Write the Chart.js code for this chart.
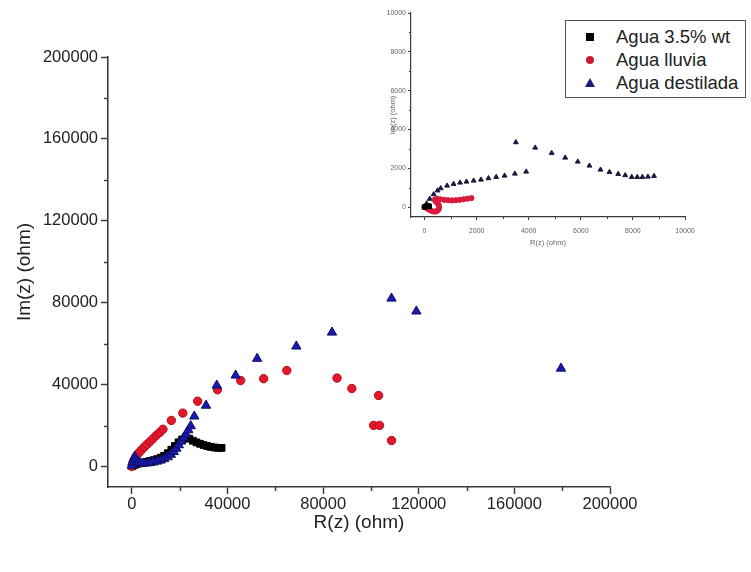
<!DOCTYPE html>
<html>
<head>
<meta charset="utf-8">
<title>Im(z) vs R(z)</title>
<script src="https://cdn.jsdelivr.net/npm/chart.js@4.4.1/dist/chart.umd.min.js"></script>
<style>
    html, body { margin: 0; padding: 0; background: #fff; overflow: hidden; }
    #wrap { position: relative; width: 751px; height: 572px; }
    #main { position: absolute; left: 0; top: 0; }
    #inset { position: absolute; left: 370px; top: 0; }
    #legend {
        position: absolute; left: 565px; top: 20px; width: 179px; height: 76px;
        border: 1px solid #555; background: #fff;
        font-family: "Liberation Sans", Arial, sans-serif; font-size: 18.5px; color: #222;
    }
    .row { position: absolute; left: 0; height: 22px; line-height: 22px; }
    .row span.txt { position: absolute; left: 50px; white-space: nowrap; }
    .mk { position: absolute; }
    .sq { left: 20px; top: 7px; width: 8px; height: 8px; background: #000; }
    .ci { left: 20px; top: 7px; width: 8px; height: 8px; border-radius: 50%; background: #c81c36; }
    .tr { left: 19px; top: 6px; width: 0; height: 0; border-left: 5px solid transparent; border-right: 5px solid transparent; border-bottom: 9px solid #1a1a78; }
</style>
</head>
<body>
<div id="wrap">
    <canvas id="main" width="751" height="572"></canvas>
    <canvas id="inset" width="340" height="255"></canvas>
    <div id="legend">
        <div class="row" style="top:5px"><i class="mk sq"></i><span class="txt">Agua 3.5% wt</span></div>
        <div class="row" style="top:28px"><i class="mk ci"></i><span class="txt">Agua lluvia</span></div>
        <div class="row" style="top:51px"><i class="mk tr"></i><span class="txt">Agua destilada</span></div>
    </div>
</div>
<script>
// main plot: Nyquist data, R(z) and Im(z) in ohm
const saltR = [200, 900, 1800, 3000, 4500, 6000, 7500, 9000, 10500, 12000, 13500, 15000, 16500, 18000, 19500, 21000, 22500, 24000, 25500, 27000, 28500, 30000, 31500, 33000, 34500, 36000, 37500];
const saltIm = [200, 700, 1100, 1500, 1900, 2300, 2700, 3100, 3600, 4300, 5200, 6500, 8200, 10000, 11800, 13200, 14100, 13600, 12600, 11800, 11100, 10500, 10000, 9600, 9300, 9100, 9100];

const rainR = [0, 400, 1000, 1800, 2800, 3900, 5100, 6300, 7600, 8900, 10200, 11600, 13000, 16500, 21300, 27500, 35800, 45500, 55100, 64800, 85800, 92000, 103200, 101100, 103600, 108600];
const rainIm = [0, 1500, 3300, 5000, 6600, 8000, 9400, 10800, 12200, 13700, 15200, 16600, 18200, 22500, 26100, 31900, 37500, 42000, 42900, 46900, 43200, 38100, 34700, 20100, 20100, 12700];

const distR = [0, 300, 700, 1200, 1800, 2600, 3600, 4800, 6200, 7600, 9000, 10500, 12000, 13500, 15000, 16300, 17500, 18600, 19600, 20600, 21600, 22600, 23600, 24600, 26100, 31000, 35500, 43400, 52400, 68800, 83700, 108600, 119000, 179500];
const distIm = [300, 2000, 3800, 4800, 3400, 2200, 1600, 1500, 1600, 1800, 2100, 2500, 3000, 3700, 4600, 5800, 7200, 8800, 10500, 12300, 14100, 15900, 17800, 19800, 24500, 29800, 39600, 44500, 52700, 58700, 65500, 82100, 75800, 47900];

const mainTicks = [0, 40000, 80000, 120000, 160000, 200000];
const mainMinor = [20000, 60000, 100000, 140000, 180000];

// inset plot
const insSaltR = [0, 60, 120, 180];
const insSaltIm = [0, 30, 50, 40];

const insRainR = [0, 100, 200, 300, 400, 480, 540, 560, 540, 480, 420, 400, 480, 600, 750, 900, 1050, 1200, 1350, 1500, 1650, 1800];
const insRainIm = [0, -80, -160, -220, -240, -200, -120, 0, 120, 220, 300, 380, 420, 400, 370, 350, 340, 350, 370, 400, 430, 460];

const insDistR = [0, 80, 200, 350, 500, 621, 866, 1115, 1364, 1610, 1885, 2167, 2454, 2751, 3074, 3468, 3903, 3506, 4249, 4881, 5401, 5885, 6331, 6755, 7100, 7435, 7706, 7955, 8167, 8364, 8576, 8810];
const insDistIm = [0, 180, 420, 650, 850, 964, 1098, 1186, 1253, 1304, 1356, 1407, 1479, 1546, 1613, 1716, 1820, 3335, 3057, 2784, 2541, 2335, 2129, 1923, 1804, 1701, 1634, 1546, 1546, 1546, 1562, 1598];

const insetTicks = [0, 2000, 4000, 6000, 8000, 10000];
const insetMinor = [1000, 3000, 5000, 7000, 9000];

const FONT = "'Liberation Sans', Arial, sans-serif";
const AXIS = "#3a3a3a";

function toPoints(xs, ys) {
    return xs.map((x, i) => ({ x, y: ys[i] }));
}

// short ticks between the labelled ones
const minorTicks = {
    id: "minorTicks",
    afterDraw(chart, args, opts) {
        const ctx = chart.ctx;
        ctx.save();
        ctx.strokeStyle = opts.color;
        ctx.lineWidth = opts.width;
        ["x", "y"].forEach((id) => {
            const scale = chart.scales[id];
            (opts.values || []).forEach((v) => {
                const p = Math.round(scale.getPixelForValue(v)) + 0.5;
                ctx.beginPath();
                if (id === "x") {
                    ctx.moveTo(p, scale.top);
                    ctx.lineTo(p, scale.top + opts.length);
                } else {
                    ctx.moveTo(scale.right, p);
                    ctx.lineTo(scale.right - opts.length, p);
                }
                ctx.stroke();
            });
        });
        ctx.restore();
    },
};

function axis(opts) {
    return {
        type: "linear",
        min: opts.min,
        max: opts.max,
        border: { color: AXIS, width: opts.lw },
        grid: { drawOnChartArea: false, tickLength: opts.tl, tickColor: AXIS, tickWidth: opts.lw * 0.9 },
        afterBuildTicks: (s) => { s.ticks = opts.ticks.map((v) => ({ value: v })); },
        afterFit: (s) => { if (opts.w) s.width = opts.w; if (opts.h) s.height = opts.h; },
        ticks: {
            autoSkip: false, maxRotation: 0, padding: opts.pad,
            color: opts.color, font: { family: FONT, size: opts.fs },
            callback: (v) => String(v),
        },
        title: {
            display: true, text: opts.title, color: opts.color,
            font: { family: FONT, size: opts.ts }, padding: opts.tpad,
        },
    };
}

// higher order is drawn first, so the blue set ends up on top
new Chart(document.getElementById("main"), {
    type: "scatter",
    data: {
        datasets: [
            {
                label: "Agua 3.5% wt", data: toPoints(saltR, saltIm), order: 3,
                pointStyle: "rect", pointRadius: 4.8, backgroundColor: "#000", borderColor: "#000", borderWidth: 1,
            },
            {
                label: "Agua lluvia", data: toPoints(rainR, rainIm), order: 2,
                pointStyle: "circle", pointRadius: 4.2, backgroundColor: "#e3172a", borderColor: "#b5101c", borderWidth: 1,
            },
            {
                label: "Agua destilada", data: toPoints(distR, distIm), order: 1,
                pointStyle: "triangle", pointRadius: 5.4, backgroundColor: "#1818b8", borderColor: "#10105a", borderWidth: 1,
            },
        ],
    },
    options: {
        responsive: false,
        animation: false,
        layout: { padding: { left: 0, right: 141, top: 57, bottom: 0 } },
        scales: {
            x: axis({ min: -10000, max: 200000, ticks: mainTicks, lw: 1.6, tl: 7, pad: 1, fs: 16.5, ts: 19,
                color: "#222", title: "R(z) (ohm)", tpad: { top: 0, bottom: 38 }, h: 85 }),
            y: axis({ min: -10000, max: 200000, ticks: mainTicks, lw: 1.6, tl: 7, pad: 3, fs: 16.5, ts: 19,
                color: "#222", title: "Im(z) (ohm)", tpad: { top: 13, bottom: 0 }, w: 108 }),
        },
        plugins: {
            legend: { display: false },
            tooltip: { enabled: false },
            minorTicks: { values: mainMinor, length: 4, color: AXIS, width: 1.4 },
        },
    },
    plugins: [minorTicks],
});

new Chart(document.getElementById("inset"), {
    type: "scatter",
    data: {
        datasets: [
            {
                label: "Agua 3.5% wt", data: toPoints(insSaltR, insSaltIm), order: 1,
                pointStyle: "rect", pointRadius: 3.2, backgroundColor: "#000", borderColor: "#000",
            },
            {
                label: "Agua lluvia", data: toPoints(insRainR, insRainIm), order: 2,
                pointStyle: "circle", pointRadius: 2.6, backgroundColor: "#d81b3c", borderColor: "#d81b3c",
            },
            {
                label: "Agua destilada", data: toPoints(insDistR, insDistIm), order: 3,
                pointStyle: "triangle", pointRadius: 2.8, backgroundColor: "#18183c", borderColor: "#18183c",
            },
        ],
    },
    options: {
        responsive: false,
        animation: false,
        layout: { padding: { left: 0, right: 25, top: 13, bottom: 0 } },
        scales: {
            x: axis({ min: -520, max: 10000, ticks: insetTicks, lw: 1.2, tl: 3, pad: 7, fs: 7, ts: 7.5,
                color: "#666", title: "R(z) (ohm)", tpad: { top: 0, bottom: 8 }, h: 38 }),
            y: axis({ min: -515, max: 10000, ticks: insetTicks, lw: 1.2, tl: 3, pad: 2, fs: 7, ts: 7.5,
                color: "#666", title: "Im(z) (ohm)", tpad: { top: 18, bottom: 0 }, w: 41 }),
        },
        plugins: {
            legend: { display: false },
            tooltip: { enabled: false },
            minorTicks: { values: insetMinor, length: 2, color: AXIS, width: 1 },
        },
    },
    plugins: [minorTicks],
});
</script>
</body>
</html>
